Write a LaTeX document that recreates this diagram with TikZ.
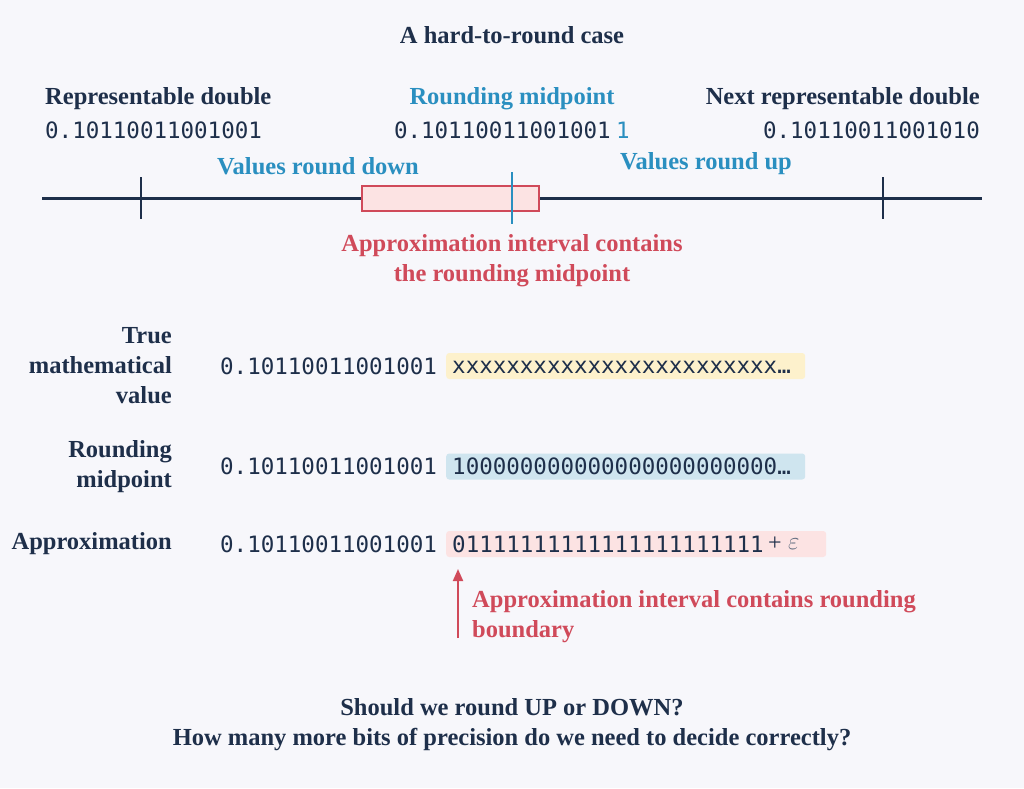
\documentclass[tikz,border=0pt]{standalone}
\usepackage{fontspec}
\setmainfont{Liberation Serif}
\setmonofont{DejaVu Sans Mono}
\usetikzlibrary{arrows.meta}
\definecolor{navy}{HTML}{1E2F4A}
\definecolor{bluec}{HTML}{2A8FC0}
\definecolor{redc}{HTML}{D04A5A}
\definecolor{bgc}{HTML}{F7F7FB}
\definecolor{yel}{HTML}{FDF1CC}
\definecolor{blu}{HTML}{CFE5EF}
\definecolor{pnk}{HTML}{FCE3E3}
\begin{document}
\begin{tikzpicture}[x=1pt,y=-1pt,
  lab/.style={font=\fontsize{24.5}{28}\selectfont\bfseries,text=navy,inner sep=0},
  blab/.style={lab,text=bluec},
  rlab/.style={lab,text=redc},
  num/.style={font=\fontsize{22.5}{26}\selectfont\ttfamily,text=navy,inner sep=0},
  hl/.style={rounded corners=3pt,draw=none}]
\fill[bgc] (0,0) rectangle (1024,788);
\node[lab] (title) at (512,35) {A hard-to-round case};
\node[lab,anchor=west] (rd) at (45,99) {Representable double};
\node[num,anchor=west] (rdn) at (45,130) {0.10110011001001};
\node[blab] (rm) at (512,99) {Rounding midpoint};
\node[num,anchor=east] (rmn) at (611,130) {0.10110011001001};
\node[num,text=bluec,anchor=west] (rm1) at (616,130) {1};
\node[lab,anchor=east] (nd) at (980,99) {Next representable double};
\node[num,anchor=east] (ndn) at (980,130) {0.10110011001010};
\node[blab] (vd) at (318,166) {Values round down};
\node[blab] (vu) at (706,164) {Values round up};
\coordinate (L) at (42,198); \coordinate (R) at (982,198);
\draw[navy,line width=3pt] (L) -- (R);
\coordinate (t1a) at (141,177); \coordinate (t1b) at (141,219);
\coordinate (t2a) at (883,177); \coordinate (t2b) at (883,219);
\draw[navy,line width=2.6pt] (t1a) -- (t1b) (t2a) -- (t2b);
\node[draw=redc,fill=pnk,line width=2.6pt,minimum width=177pt,minimum height=25pt,inner sep=0] (box) at (450.5,198.5) {};
\coordinate (ma) at (512,172); \coordinate (mb) at (512,224);
\draw[bluec,line width=2.2pt] (ma) -- (mb);
\node[rlab,align=center] (ai) at (512,261) {Approximation interval contains\\[2pt]the rounding midpoint};
% rows
\node[lab,align=right,anchor=east] (r1) at (172,366) {True\\[2pt]mathematical\\[2pt]value};
\node[num,anchor=west] (n1) at (220,366) {0.10110011001001};
\node[hl,fill=yel,minimum width=359pt,minimum height=26pt,anchor=west] (h1) at (446,366) {};
\node[num,anchor=west] (x1) at (452,367) {xxxxxxxxxxxxxxxxxxxxxxxx\ldots};
\node[lab,align=right,anchor=east] (r2) at (172,467) {Rounding\\[2pt]midpoint};
\node[num,anchor=west] (n2) at (220,466) {0.10110011001001};
\node[hl,fill=blu,minimum width=359pt,minimum height=26pt,anchor=west] (h2) at (446,466.5) {};
\node[num,anchor=west] (x2) at (452,466) {100000000000000000000000\ldots};
\node[lab,anchor=east] (r3) at (172,544) {Approximation};
\node[num,anchor=west] (n3) at (220,544) {0.10110011001001};
\node[hl,fill=pnk,minimum width=380pt,minimum height=26pt,anchor=west] (h3) at (446,544) {};
\node[num,anchor=west] (x3) at (452,544) {01111111111111111111111};
\node[font=\fontsize{24}{26}\selectfont,text=navy,anchor=west,inner sep=0] (pl) at ([xshift=4pt]x3.east) {+};
\node[font=\fontsize{24}{26}\selectfont,text=navy!70,anchor=west,inner sep=0] (eps) at ([xshift=6pt]pl.east) {$\varepsilon$};
\coordinate (ab) at (458,638); \coordinate (at) at (458,569);
\draw[redc,line width=2pt,-{Triangle[length=12pt,width=10pt]}] (ab) -- (at);
\node[rlab,align=left,anchor=west] (ac) at (472,617) {Approximation interval contains rounding\\[2pt]boundary};
\node[lab,align=center] (q) at (512,725) {Should we round UP or DOWN?\\[2pt]How many more bits of precision do we need to decide correctly?};
\end{tikzpicture}
\end{document}
